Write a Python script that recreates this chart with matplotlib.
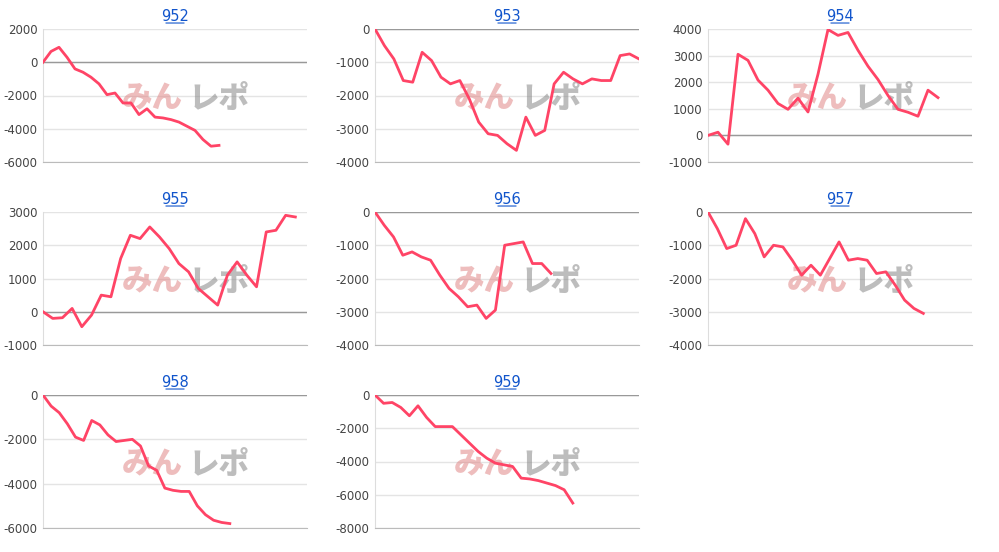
import matplotlib.pyplot as plt
import numpy as np

plt.rcParams['axes.unicode_minus'] = False

names = ['952', '953', '954', '955', '956', '957', '958', '959']

s952 = [0, 650, 900, 300, -400, -600, -900, -1300, -1950, -1850, -2450, -2450, -3150, -2800,
        -3300, -3350, -3450, -3600, -3850, -4100, -4650, -5050, -5000]
s953 = [0, -500, -900, -1550, -1600, -700, -950, -1450, -1650, -1550, -2100, -2800, -3150, -3200,
        -3450, -3650, -2650, -3200, -3050, -1650, -1300, -1500, -1650, -1500, -1550, -1550, -800, -750, -900]
s954 = [0, 120, -330, 3050, 2820, 2080, 1700, 1200, 980, 1400, 880, 2300, 3980, 3760, 3870, 3200,
        2600, 2100, 1500, 980, 870, 720, 1700, 1420]
s955 = [0, -200, -180, 100, -450, -100, 500, 450, 1600, 2300, 2200, 2550, 2250, 1900, 1450, 1200,
        700, 450, 200, 1100, 1500, 1100, 750, 2400, 2450, 2900, 2850]
s956 = [0, -400, -750, -1300, -1200, -1350, -1450, -1900, -2300, -2550, -2850, -2800, -3200, -2950,
        -1000, -950, -900, -1550, -1550, -1850]
s957 = [0, -500, -1100, -1000, -200, -650, -1350, -1000, -1050, -1450, -1900, -1600, -1900, -1400,
        -900, -1450, -1400, -1450, -1850, -1800, -2200, -2650, -2900, -3050]
s958 = [0, -500, -800, -1300, -1900, -2050, -1150, -1350, -1800, -2100, -2050, -2000, -2300, -3200,
        -3400, -4200, -4300, -4350, -4350, -5000, -5400, -5650, -5750, -5800]
s959 = [0, -500, -450, -750, -1250, -650, -1350, -1900, -1900, -1900, -2400, -2900, -3400, -3800,
        -4100, -4200, -4300, -5000, -5050, -5150, -5300, -5450, -5700, -6500]
series = [s952, s953, s954, s955, s956, s957, s958, s959]

# x extent (in steps) each panel's axis spans
x_span = [33, 28, 26.4, 27.2, 28.5, 28.2, 32.5, 30.7]
y_ranges = [(-6000, 2000, 2000), (-4000, 0, 1000), (-1000, 4000, 1000), (-1000, 3000, 1000),
            (-4000, 0, 1000), (-4000, 0, 1000), (-6000, 0, 2000), (-8000, 0, 2000)]

W, H = 999, 552
lefts = [43, 375, 708]
tops = [29, 212, 395]
aw, ah = 264, 133
jp = ['Noto Sans CJK JP', 'DejaVu Sans']

fig = plt.figure(figsize=(W / 100, H / 100), dpi=100)
for i, (name, s) in enumerate(zip(names, series)):
    r, c = divmod(i, 3)
    ax = fig.add_axes([lefts[c] / W, 1 - (tops[r] + ah) / H, aw / W, ah / H])
    lo, hi, st = y_ranges[i]
    ax.set_ylim(lo, hi)
    ax.set_xlim(0, x_span[i])
    ax.set_yticks(np.arange(lo, hi + 1, st))
    ax.set_xticks([])
    ax.grid(axis='y', color='#e4e4e4', lw=1)
    ax.axhline(0, color='#999999', lw=1)
    for sp in ['top', 'right']:
        ax.spines[sp].set_visible(False)
    ax.spines['left'].set_color('#dddddd')
    ax.spines['bottom'].set_color('#bbbbbb')
    ax.tick_params(axis='y', length=0, labelsize=8.5, labelcolor='#444444', pad=4)
    ax.set_axisbelow(True)
    # watermark
    ax.text(0.53, 0.48, 'みん', transform=ax.transAxes, fontsize=22, fontweight='black',
            style='italic', color='#e08888', alpha=0.55, ha='right', va='center', family=jp)
    ax.text(0.55, 0.48, 'レポ', transform=ax.transAxes, fontsize=22, fontweight='black',
            style='italic', color='#888888', alpha=0.55, ha='left', va='center', family=jp)
    ax.plot(np.arange(len(s)), s, color='#ff4466', lw=2, zorder=3)
    ax.set_title(name, color='#1155cc', fontsize=10.5, pad=6)
    ax.annotate('', xy=(0.545, 1.045), xytext=(0.455, 1.045), xycoords='axes fraction',
                arrowprops=dict(arrowstyle='-', color='#1155cc', lw=0.8))

fig.savefig('out.png', dpi=100)
